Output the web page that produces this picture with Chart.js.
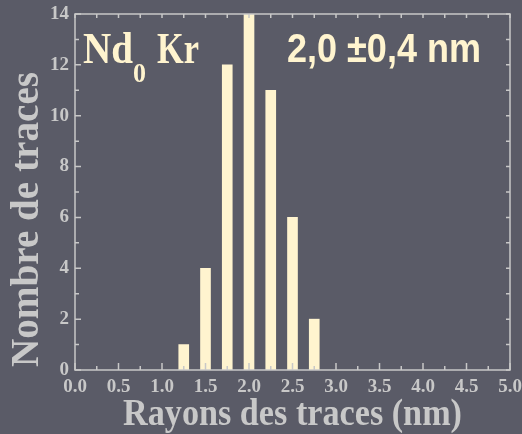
<!DOCTYPE html>
<html><head><meta charset="utf-8">
<script src="https://cdn.jsdelivr.net/npm/chart.js@4"></script>
<style>html,body{margin:0;padding:0;background:#5a5b67;}#wrap{width:522px;height:434px;}</style>
</head><body><div id="wrap"><canvas id="c" width="522" height="434"></canvas></div>
<script>
const radii = [1.25, 1.5, 1.75, 2.0, 2.25, 2.5, 2.75];
const counts = [1, 4, 12, 14, 11, 6, 2];
const xRange = [0, 5];
const yRange = [0, 14];
const xTitle = 'Rayons des traces (nm)';
const yTitle = 'Nombre de traces';
const sampleLabel = ['Nd', '0', 'Kr'];
const meanLabel = '2,0 \u00B10,4 nm';

const BG = '#5a5b67', AX = '#c8c8c8', CREAM = '#fff4cf';

function fitText(ctx, str, x, y, w, font, color) {
  ctx.save();
  ctx.font = font; ctx.fillStyle = color; ctx.textBaseline = 'alphabetic'; ctx.textAlign = 'left';
  const m = ctx.measureText(str).width;
  ctx.translate(x, y); ctx.scale(w / m, 1);
  ctx.fillText(str, 0, 0);
  ctx.restore();
}

const deco = {
  id: 'deco',
  beforeDraw(chart) {
    const ctx = chart.ctx;
    ctx.save(); ctx.fillStyle = BG; ctx.fillRect(0, 0, chart.width, chart.height); ctx.restore();
  },
  afterDraw(chart) {
    const ctx = chart.ctx, a = chart.chartArea, xs = chart.scales.x, ys = chart.scales.y;
    ctx.save();
    ctx.strokeStyle = AX; ctx.lineWidth = 1.5;
    ctx.strokeRect(a.left, a.top, a.right - a.left, a.bottom - a.top);
    ctx.beginPath();
    for (let v = xRange[0]; v <= xRange[1] + 1e-9; v += 0.25) {
      const px = xs.getPixelForValue(v);
      const major = Math.abs(v * 2 - Math.round(v * 2)) < 1e-6;
      const lb = major ? 7 : 4;
      ctx.moveTo(px, a.bottom); ctx.lineTo(px, a.bottom - lb);
      ctx.moveTo(px, a.top); ctx.lineTo(px, a.top + 4);
    }
    for (let v = yRange[0]; v <= yRange[1]; v += 1) {
      const py = ys.getPixelForValue(v);
      const lb = v % 2 === 0 ? 6 : 4;
      ctx.moveTo(a.left, py); ctx.lineTo(a.left + lb, py);
      ctx.moveTo(a.right, py); ctx.lineTo(a.right - 4, py);
    }
    ctx.stroke();
    ctx.restore();
    fitText(ctx, xTitle, 123, 425, 339, 'bold 38px "Liberation Serif"', AX);
    ctx.save();
    ctx.translate(38, 367); ctx.rotate(-Math.PI / 2);
    fitText(ctx, yTitle, 0, 0, 295, 'bold 39px "Liberation Serif"', AX);
    ctx.restore();
    fitText(ctx, sampleLabel[0], 83, 63, 50, 'bold 45px "Liberation Serif"', CREAM);
    fitText(ctx, sampleLabel[1], 133, 82, 13, 'bold 27px "Liberation Serif"', CREAM);
    fitText(ctx, sampleLabel[2], 157, 63, 42, 'bold 45px "Liberation Serif"', CREAM);
    fitText(ctx, meanLabel, 287, 62, 194, 'bold 40px "Liberation Sans"', CREAM);
  }
};

new Chart(document.getElementById('c'), {
  type: 'bar',
  data: {
    datasets: [{
      data: radii.map((r, i) => ({ x: r, y: counts[i] })),
      backgroundColor: CREAM,
      borderWidth: 0,
      barThickness: 10
    }]
  },
  options: {
    responsive: false,
    animation: false,
    events: [],
    layout: { padding: { left: 0, top: 14, right: 12, bottom: 0 } },
    plugins: { legend: { display: false }, tooltip: { enabled: false } },
    scales: {
      x: {
        type: 'linear', min: xRange[0], max: xRange[1], offset: false,
        grid: { display: false, drawTicks: false },
        border: { display: false },
        ticks: { stepSize: 0.5, padding: 6, color: AX, maxRotation: 0,
          font: { family: '"Liberation Serif"', weight: 'bold', size: 19 },
          callback: v => Number(v).toFixed(1) },
        afterFit: s => { s.height = 64; s.paddingLeft = 0; s.paddingRight = 0; }
      },
      y: {
        min: yRange[0], max: yRange[1],
        grid: { display: false, drawTicks: false },
        border: { display: false },
        ticks: { stepSize: 2, padding: 6, color: AX,
          font: { family: '"Liberation Serif"', weight: 'bold', size: 19 } },
        afterFit: s => { s.width = 75; s.paddingTop = 0; s.paddingBottom = 0; }
      }
    }
  },
  plugins: [deco]
});
</script>
</body></html>
